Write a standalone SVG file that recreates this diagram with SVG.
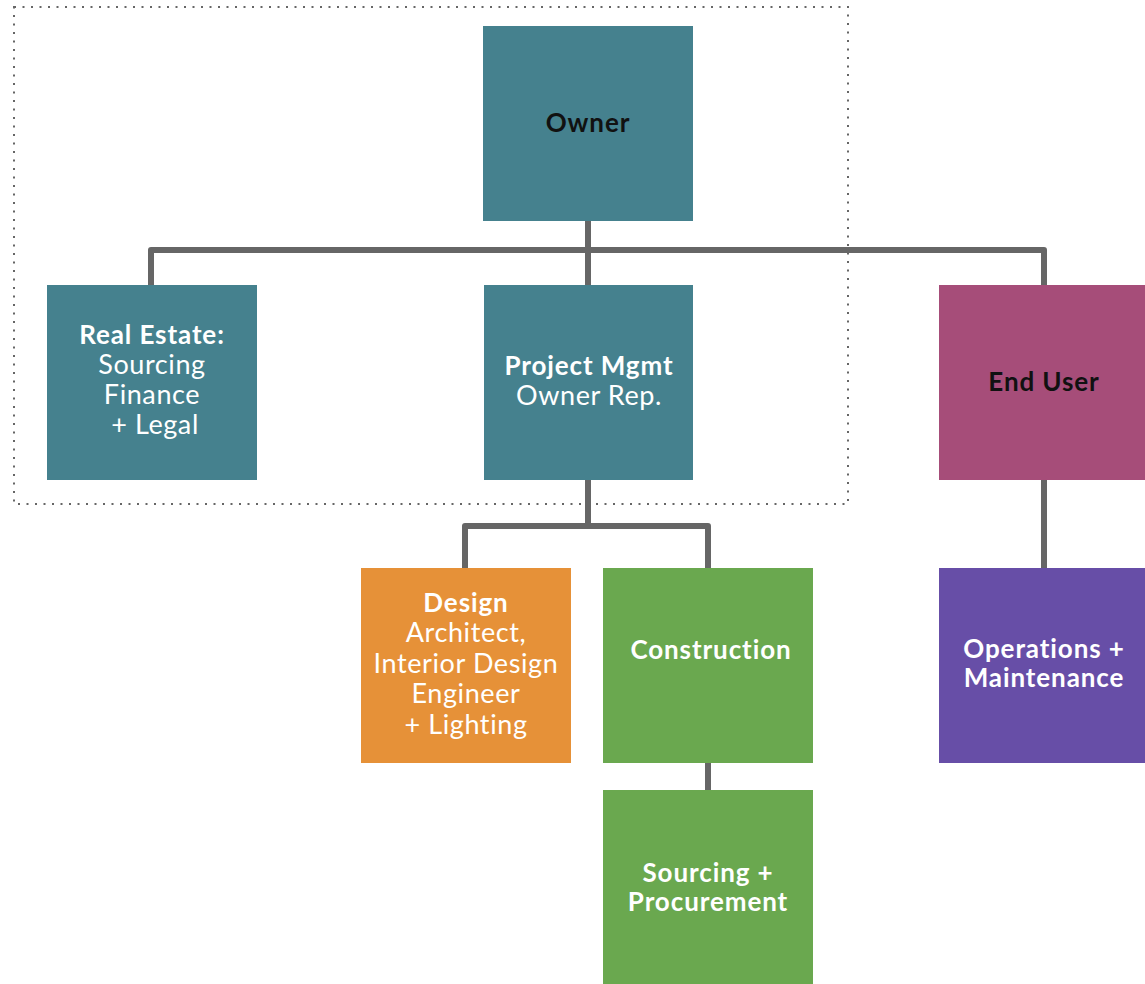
<svg xmlns="http://www.w3.org/2000/svg" width="1145" height="984" viewBox="0 0 1145 984">
<style>
.b{font-family:Lato,"Open Sans","Liberation Sans",sans-serif;font-weight:700;font-size:26px;letter-spacing:0.9px;text-anchor:middle}
.r{font-family:Lato,"Open Sans","Liberation Sans",sans-serif;font-weight:400;font-size:27px;letter-spacing:0.6px;text-anchor:middle;fill:#fff}
.w{fill:#fff}
.k{fill:#111}
.c{fill:none;stroke:#666;stroke-width:6;stroke-linejoin:round}
</style>
<rect width="1145" height="984" fill="#fff"/>
<rect x="14" y="7" width="834" height="497" fill="none" stroke="#666" stroke-width="2" stroke-dasharray="2 6.5"/>
<g id="connectors">
<path class="c" d="M588 221V250M151 285V250H1044V285M588 250V285"/>
<path class="c" d="M588 480V526M465 568V526H708V568"/>
<path class="c" d="M1044 480V568"/>
<path class="c" d="M708 763V790"/>
</g>
<g id="owner"><rect x="483" y="26" width="210" height="195" fill="#45818e"/><text class="b k" x="588" y="132">Owner</text></g>
<g id="real-estate"><rect x="47" y="285" width="210" height="195" fill="#45818e"/>
<text class="b w" x="152" y="344">Real Estate:</text>
<text class="r" x="152" y="374">Sourcing</text>
<text class="r" x="152" y="404">Finance</text>
<text class="r" x="155" y="434">+ Legal</text></g>
<g id="project-mgmt"><rect x="484" y="285" width="209" height="195" fill="#45818e"/>
<text class="b w" x="589" y="375">Project Mgmt</text>
<text class="r" x="589" y="405">Owner Rep.</text></g>
<g id="end-user"><rect x="939" y="285" width="210" height="195" fill="#a64d79"/><text class="b k" x="1044" y="391">End User</text></g>
<g id="design"><rect x="361" y="568" width="210" height="195" fill="#e69138"/>
<text class="b w" x="466" y="612">Design</text>
<text class="r" x="466" y="642">Architect,</text>
<text class="r" x="466" y="673">Interior Design</text>
<text class="r" x="466" y="703">Engineer</text>
<text class="r" x="466" y="734">+ Lighting</text></g>
<g id="construction"><rect x="603" y="568" width="210" height="195" fill="#6aa84f"/><text class="b w" x="711" y="659">Construction</text></g>
<g id="operations"><rect x="939" y="568" width="210" height="195" fill="#674ea7"/>
<text class="b w" x="1044" y="658">Operations +</text>
<text class="b w" x="1044" y="687">Maintenance</text></g>
<g id="sourcing"><rect x="603" y="790" width="210" height="194" fill="#6aa84f"/>
<text class="b w" x="708" y="882">Sourcing +</text>
<text class="b w" x="708" y="911">Procurement</text></g>
</svg>
